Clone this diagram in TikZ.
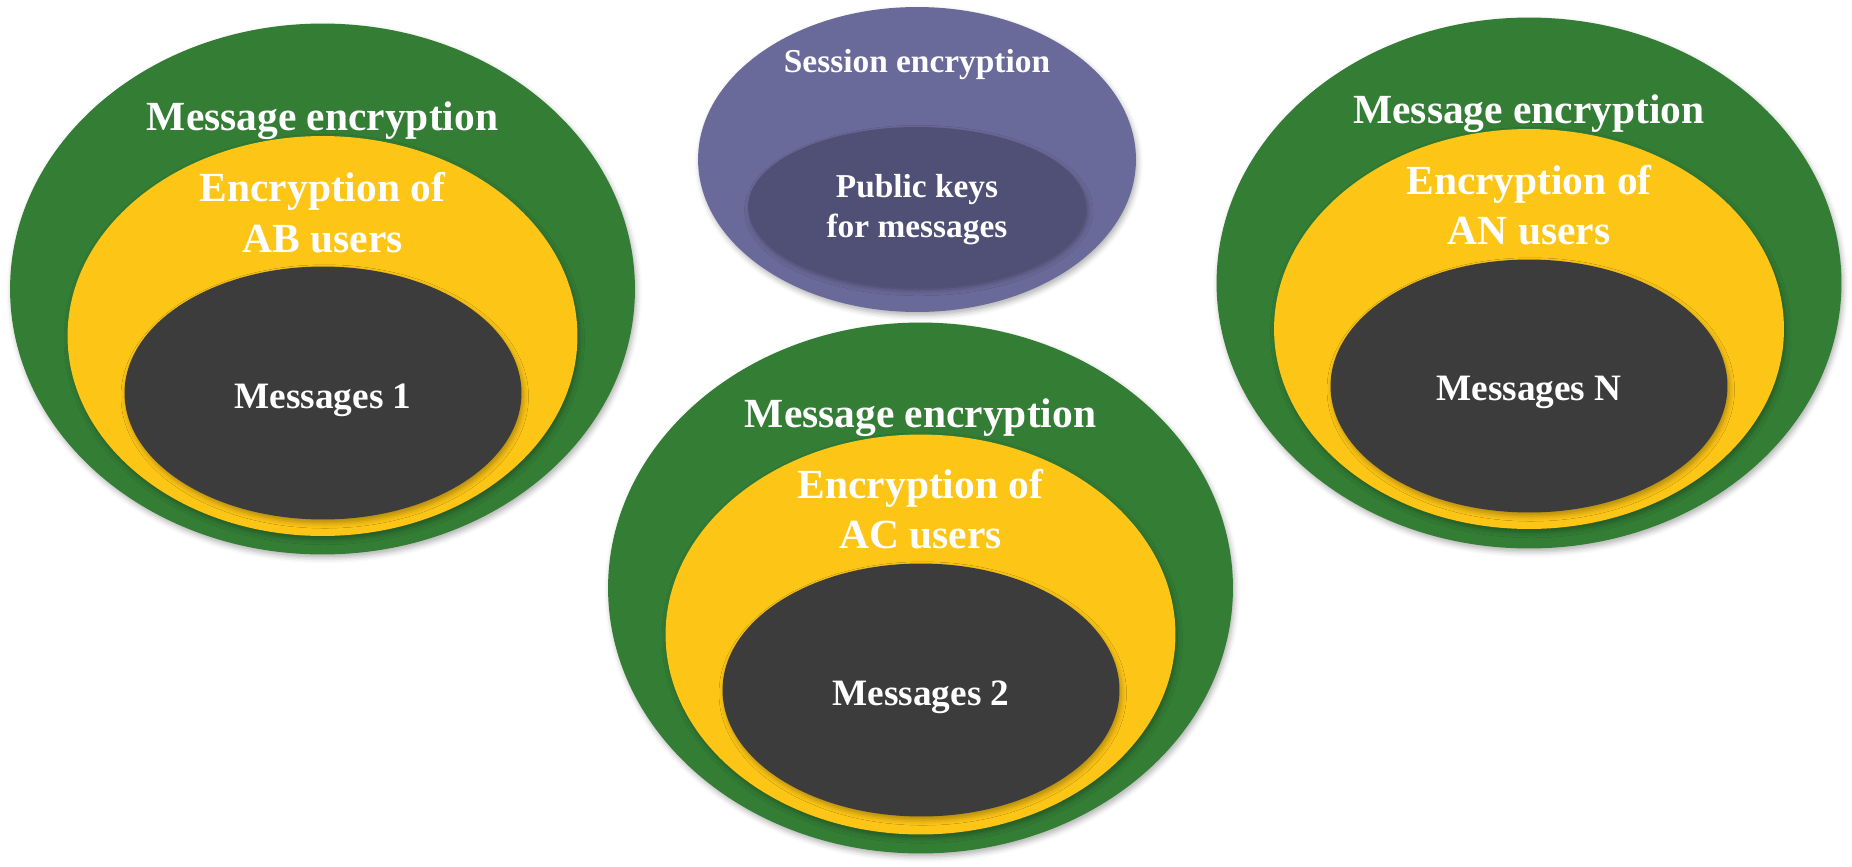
\documentclass[tikz,border=0pt]{standalone}
\usepackage{fontspec}
\setmainfont{Liberation Serif}
\usetikzlibrary{shapes.geometric,shadows.blur}
\definecolor{cgreen}{HTML}{337D35}
\definecolor{cyellow}{HTML}{FDC516}
\definecolor{cdark}{HTML}{3C3C3C}
\definecolor{cpurple}{HTML}{6A6A9A}
\definecolor{cpurpled}{HTML}{505077}
\tikzset{
  ell/.style={ellipse, inner sep=0pt, draw=none,
    blur shadow={shadow xshift=1pt, shadow yshift=-2pt, shadow blur radius=3pt, shadow opacity=30}},
  greenell/.style={ell, fill=cgreen, minimum width=12.5cm, minimum height=10.62cm},
  yellowell/.style={ell, fill=cyellow, minimum width=10.2cm, minimum height=8cm},
  darkell/.style={ell, fill=cdark, minimum width=7.94cm, minimum height=5.06cm},
  purpleell/.style={ell, fill=cpurple, minimum width=8.76cm, minimum height=6.1cm},
  purpleinner/.style={ell, fill=cpurpled, minimum width=6.76cm, minimum height=3.2cm},
  bigtxt/.style={anchor=base, inner sep=0pt, text=white, font=\bfseries\fontsize{23.6}{28}\selectfont},
  msgtxt/.style={anchor=base, inner sep=0pt, text=white, font=\bfseries\fontsize{21.2}{26}\selectfont},
  sestxt/.style={anchor=base, inner sep=0pt, text=white, font=\bfseries\fontsize{19}{23}\selectfont},
}
\begin{document}
\begin{tikzpicture}[x=0.02cm,y=-0.02cm]
\useasboundingbox (0,0) rectangle (1852,866);
% left group
\node[greenell] (g1) at (322.5,289) {};
\node[yellowell] (y1) at (322.5,336) {};
\node[darkell] (d1) at (323,393) {};
\node[bigtxt] (me1) at (322.5,130) {Message encryption};
\node[bigtxt] (eo1) at (322.5,201) {Encryption of};
\node[bigtxt] (ab1) at (322.5,252) {AB users};
\node[msgtxt] (m1) at (323,408) {Messages 1};
% middle bottom group
\node[greenell] (g2) at (920.5,588) {};
\node[yellowell] (y2) at (920.5,634.5) {};
\node[darkell] (d2) at (921,690) {};
\node[bigtxt] (me2) at (920.5,427) {Message encryption};
\node[bigtxt] (eo2) at (920.5,498) {Encryption of};
\node[bigtxt] (ac2) at (920.5,548) {AC users};
\node[msgtxt] (m2) at (921,705) {Messages 2};
% right group
\node[greenell] (g3) at (1529,283) {};
\node[yellowell] (y3) at (1529,329) {};
\node[darkell] (d3) at (1529,386) {};
\node[bigtxt] (me3) at (1529,123) {Message encryption};
\node[bigtxt] (eo3) at (1529,194) {Encryption of};
\node[bigtxt] (an3) at (1529,244) {AN users};
\node[msgtxt] (m3) at (1529,400) {Messages N};
% session group
\node[purpleell] (p1) at (917,159.5) {};
\node[purpleinner] (p2) at (917,207) {};
\node[sestxt] (se) at (917,72) {Session encryption};
\node[sestxt] (pk) at (917,197) {Public keys};
\node[sestxt] (fm) at (917,237) {for messages};
\end{tikzpicture}
\end{document}
